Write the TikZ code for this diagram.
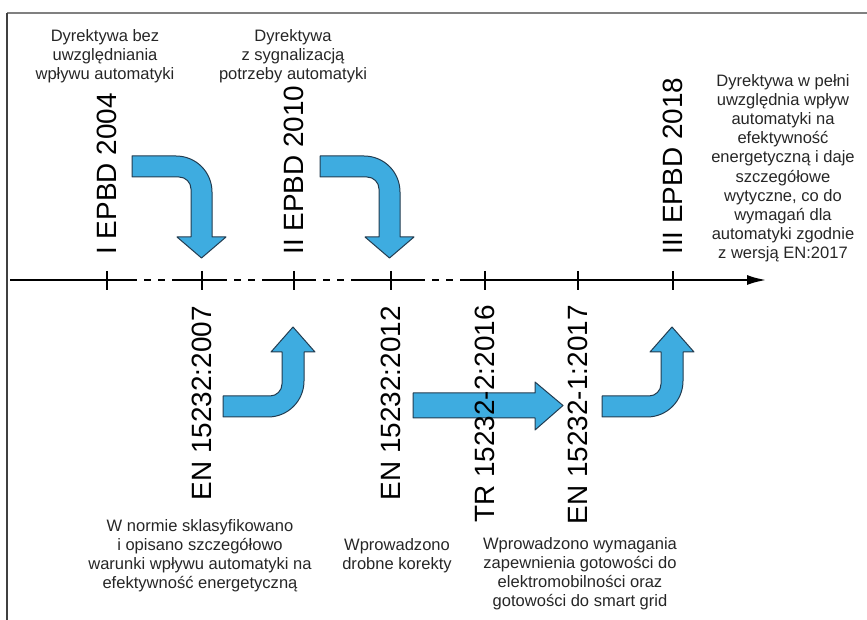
\documentclass[tikz,border=0pt]{standalone}
\usepackage{fontspec}
\setmainfont{Liberation Sans}
\usetikzlibrary{arrows.meta}

\definecolor{arrowblue}{RGB}{62,172,224}
\definecolor{arrowedge}{RGB}{35,60,80}

\tikzset{
  axisline/.style={line width=1.4bp},
  gapline/.style={line width=1.4bp, dash pattern=on 3.5bp off 3.5bp, dash phase=3.5bp},
  tickline/.style={line width=0.8bp},
  bluearrow/.style={fill=arrowblue, draw=arrowedge, line width=0.5bp, line join=round},
  vlabel/.style={rotate=90, inner sep=0pt, font=\fontsize{14}{16}\selectfont},
  note/.style={align=center, inner sep=0pt, text=black!85, font=\fontsize{8.3}{9.6}\selectfont}
}

\begin{document}
\begin{tikzpicture}[x=0.5bp, y=-0.5bp]
\useasboundingbox (0,0) rectangle (867,620);

% Frame
\draw[gray, line width=1bp] (7,13) -- (867,13);
\draw[black!75, line width=0.7bp] (7,13) -- (7,620);

% Blue arrows (down, up, straight)
\filldraw[bluearrow] (132,156) -- (176,156) .. controls (196,156) and (212,172) .. (212,192) -- (212,237) -- (226,237) -- (201.5,258) -- (177,237) -- (191,237) -- (191,189) .. controls (191,182.4) and (185.6,177) .. (179,177) -- (132,177) -- cycle;
\filldraw[bluearrow, shift={(188,0)}] (132,156) -- (176,156) .. controls (196,156) and (212,172) .. (212,192) -- (212,237) -- (226,237) -- (201.5,258) -- (177,237) -- (191,237) -- (191,189) .. controls (191,182.4) and (185.6,177) .. (179,177) -- (132,177) -- cycle;
\filldraw[bluearrow] (223,396) -- (270,396) .. controls (276.6,396) and (282,390.6) .. (282,384) -- (282,352) -- (271,352) -- (293,327) -- (315,352) -- (304,352) -- (304,381) .. controls (304,400.9) and (287.9,417) .. (268,417) -- (223,417) -- cycle;
\filldraw[bluearrow, shift={(379,0)}] (223,396) -- (270,396) .. controls (276.6,396) and (282,390.6) .. (282,384) -- (282,352) -- (271,352) -- (293,327) -- (315,352) -- (304,352) -- (304,381) .. controls (304,400.9) and (287.9,417) .. (268,417) -- (223,417) -- cycle;
\filldraw[bluearrow] (413,393) -- (535,393) -- (535,382) -- (563,405.5) -- (535,430) -- (535,418) -- (413,418) -- cycle;

% Time axis
\coordinate (ax0) at (10,280);
\coordinate (g1a) at (137,280);
\coordinate (g1b) at (172,280);
\coordinate (g2a) at (227,280);
\coordinate (g2b) at (262,280);
\coordinate (g3a) at (316,280);
\coordinate (g3b) at (351,280);
\coordinate (g4a) at (425,280);
\coordinate (g4b) at (460,280);
\coordinate (ax1) at (767,280);
\draw[axisline] (ax0) -- (g1a);
\draw[gapline] (g1a) -- (g1b);
\draw[axisline] (g1b) -- (g2a);
\draw[gapline] (g2a) -- (g2b);
\draw[axisline] (g2b) -- (g3a);
\draw[gapline] (g3a) -- (g3b);
\draw[axisline] (g3b) -- (g4a);
\draw[gapline] (g4a) -- (g4b);
\draw[axisline, -{Latex[length=10bp, width=5bp]}] (g4b) -- (ax1);

% Ticks
\foreach \x/\n in {107/t1, 202/t2, 294/t3, 391/t4, 485/t5, 578/t6, 673/t7} {
  \coordinate (\n) at (\x,280);
  \draw[tickline] ([yshift=4.5bp]\n) -- ([yshift=-5bp]\n);
}

% Directives above the axis
\node[vlabel, anchor=west] (epbd2004) at ([yshift=12.5bp]t1) {I EPBD 2004};
\node[vlabel, anchor=west] (epbd2010) at ([yshift=12.5bp]t3) {II EPBD 2010};
\node[vlabel, anchor=west] (epbd2018) at ([yshift=12.5bp]t7) {III EPBD 2018};

% Standards below the axis
\node[vlabel, anchor=east] (en2007) at ([yshift=-13bp]t2) {EN 15232:2007};
\node[vlabel, anchor=east] (en2012) at ([yshift=-13bp]t4) {EN 15232:2012};
\node[vlabel, anchor=east] (tr2016) at ([yshift=-12.5bp]t5) {TR 15232-2:2016};
\node[vlabel, anchor=east] (en2017) at ([yshift=-12.5bp]t6) {EN 15232-1:2017};

% Descriptions
\node[note, anchor=north] (txt2004) at (105,29) {Dyrektywa bez\\uwzględniania\\wpływu automatyki};
\node[note, anchor=north] (txt2010) at (293,29) {Dyrektywa\\z sygnalizacją\\potrzeby automatyki};
\node[note, anchor=north] (txt2018) at (783,74) {Dyrektywa w pełni\\uwzględnia wpływ\\automatyki na\\efektywność\\energetyczną i daje\\szczegółowe\\wytyczne, co do\\wymagań dla\\automatyki zgodnie\\z wersją EN:2017};
\node[note, anchor=north] (txt2007) at (200,519) {W normie sklasyfikowano\\i opisano szczegółowo\\warunki wpływu automatyki na\\efektywność energetyczną};
\node[note, anchor=north] (txt2012) at (397,538) {Wprowadzono\\drobne korekty};
\node[note, anchor=north] (txt2017) at (580,537) {Wprowadzono wymagania\\zapewnienia gotowości do\\elektromobilności oraz\\gotowości do smart grid};

\end{tikzpicture}
\end{document}
